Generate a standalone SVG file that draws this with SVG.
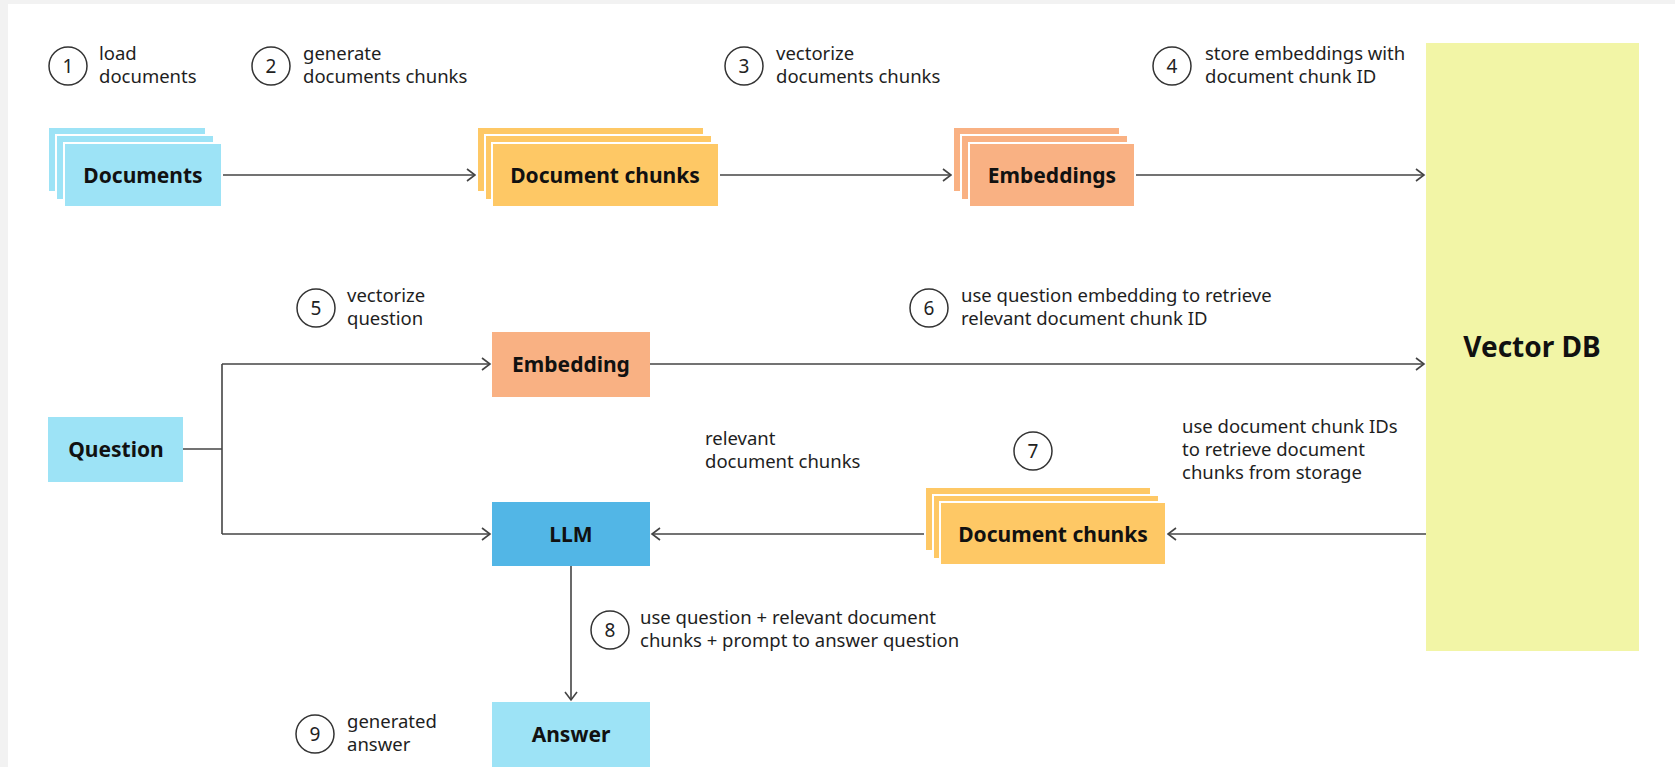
<svg xmlns="http://www.w3.org/2000/svg" width="1675" height="767" viewBox="0 0 1675 767">
  <defs>
    <marker id="arrow" markerUnits="userSpaceOnUse" markerWidth="12" markerHeight="16" refX="9" refY="7" orient="auto">
      <path d="M1,1 L9,7 L1,13" fill="none" stroke="#444" stroke-width="1.6"/>
    </marker>
    <style>
      .lbl { font-family: "Noto Sans", "Open Sans", sans-serif; font-size: 18.5px; fill: #1e1e1e; }
      .num { font-family: "Noto Sans", "Open Sans", sans-serif; font-size: 19px; fill: #222; text-anchor: middle; }
      .ttl { font-family: "Noto Sans", "Open Sans", sans-serif; font-size: 21px; font-weight: bold; fill: #111; text-anchor: middle; }
      .big { font-family: "Noto Sans", "Open Sans", sans-serif; font-size: 28px; font-weight: bold; fill: #111; text-anchor: middle; }
      .ring { fill: none; stroke: #333; stroke-width: 1.5; }
      .edge { fill: none; stroke: #444; stroke-width: 1.6; }
      .sheet { stroke: #fff; stroke-width: 2; }
      .doc { fill: #9de3f6; }
      .chunk { fill: #fec865; }
      .emb { fill: #f9b183; }
      .llm { fill: #52b6e6; }
      .vdb { fill: #f2f5a6; }
    </style>
  </defs>

  <!-- canvas -->
  <rect x="0" y="0" width="1675" height="767" fill="#f2f2f2"/>
  <rect x="8" y="4" width="1667" height="763" fill="#ffffff"/>

  <!-- step markers and captions -->
  <g id="steps">
    <circle class="ring" cx="68" cy="66" r="19"/><text class="num" x="68" y="73">1</text>
    <text class="lbl" x="99" y="60">load</text><text class="lbl" x="99" y="83">documents</text>

    <circle class="ring" cx="271" cy="66" r="19"/><text class="num" x="271" y="73">2</text>
    <text class="lbl" x="303" y="60">generate</text><text class="lbl" x="303" y="83">documents chunks</text>

    <circle class="ring" cx="744" cy="66" r="19"/><text class="num" x="744" y="73">3</text>
    <text class="lbl" x="776" y="60">vectorize</text><text class="lbl" x="776" y="83">documents chunks</text>

    <circle class="ring" cx="1172" cy="66" r="19"/><text class="num" x="1172" y="73">4</text>
    <text class="lbl" x="1205" y="60">store embeddings with</text><text class="lbl" x="1205" y="83">document chunk ID</text>

    <circle class="ring" cx="316" cy="308" r="19"/><text class="num" x="316" y="315">5</text>
    <text class="lbl" x="347" y="302">vectorize</text><text class="lbl" x="347" y="325">question</text>

    <circle class="ring" cx="929" cy="308" r="19"/><text class="num" x="929" y="315">6</text>
    <text class="lbl" x="961" y="302">use question embedding to retrieve</text><text class="lbl" x="961" y="325">relevant document chunk ID</text>

    <text class="lbl" x="705" y="445">relevant</text><text class="lbl" x="705" y="468">document chunks</text>

    <circle class="ring" cx="1033" cy="451" r="19"/><text class="num" x="1033" y="458">7</text>

    <text class="lbl" x="1182" y="433">use document chunk IDs</text>
    <text class="lbl" x="1182" y="456">to retrieve document</text>
    <text class="lbl" x="1182" y="479">chunks from storage</text>

    <circle class="ring" cx="610" cy="630" r="19"/><text class="num" x="610" y="637">8</text>
    <text class="lbl" x="640" y="624">use question + relevant document</text><text class="lbl" x="640" y="647">chunks + prompt to answer question</text>

    <circle class="ring" cx="315" cy="734" r="19"/><text class="num" x="315" y="741">9</text>
    <text class="lbl" x="347" y="728">generated</text><text class="lbl" x="347" y="751">answer</text>
  </g>

  <!-- connectors -->
  <g id="connectors">
    <line class="edge" x1="222" y1="175" x2="475" y2="175" marker-end="url(#arrow)"/>
    <line class="edge" x1="719" y1="175" x2="951" y2="175" marker-end="url(#arrow)"/>
    <line class="edge" x1="1135" y1="175" x2="1424" y2="175" marker-end="url(#arrow)"/>
    <polyline class="edge" points="183,449 222,449"/>
    <polyline class="edge" points="222,364 222,534"/>
    <line class="edge" x1="222" y1="364" x2="490" y2="364" marker-end="url(#arrow)"/>
    <line class="edge" x1="222" y1="534" x2="490" y2="534" marker-end="url(#arrow)"/>
    <line class="edge" x1="650" y1="364" x2="1424" y2="364" marker-end="url(#arrow)"/>
    <line class="edge" x1="1426" y1="534" x2="1168" y2="534" marker-end="url(#arrow)"/>
    <line class="edge" x1="925" y1="534" x2="652" y2="534" marker-end="url(#arrow)"/>
    <line class="edge" x1="571" y1="566" x2="571" y2="700" marker-end="url(#arrow)"/>
  </g>

  <!-- nodes -->
  <g id="documents">
    <rect class="doc sheet" x="48" y="127" width="158" height="65"/>
    <rect class="doc sheet" x="56" y="135" width="158" height="65"/>
    <rect class="doc sheet" x="64" y="143" width="158" height="64"/>
    <text class="ttl" x="143" y="183">Documents</text>
  </g>

  <g id="document-chunks">
    <rect class="chunk sheet" x="477" y="127" width="227" height="65"/>
    <rect class="chunk sheet" x="485" y="135" width="227" height="65"/>
    <rect class="chunk sheet" x="492" y="143" width="227" height="64"/>
    <text class="ttl" x="605" y="183">Document chunks</text>
  </g>

  <g id="embeddings">
    <rect class="emb sheet" x="953" y="127" width="167" height="65"/>
    <rect class="emb sheet" x="961" y="135" width="167" height="65"/>
    <rect class="emb sheet" x="969" y="143" width="166" height="64"/>
    <text class="ttl" x="1052" y="183">Embeddings</text>
  </g>

  <g id="vector-db">
    <rect class="vdb" x="1426" y="43" width="213" height="608"/>
    <text class="big" x="1532" y="357">Vector DB</text>
  </g>

  <g id="question">
    <rect class="doc" x="48" y="417" width="135" height="65"/>
    <text class="ttl" x="116" y="457">Question</text>
  </g>

  <g id="embedding">
    <rect class="emb" x="492" y="332" width="158" height="65"/>
    <text class="ttl" x="571" y="372">Embedding</text>
  </g>

  <g id="retrieved-chunks">
    <rect class="chunk sheet" x="925" y="487" width="226" height="64"/>
    <rect class="chunk sheet" x="933" y="495" width="226" height="64"/>
    <rect class="chunk sheet" x="940" y="502" width="226" height="63"/>
    <text class="ttl" x="1053" y="542">Document chunks</text>
  </g>

  <g id="llm">
    <rect class="llm" x="492" y="502" width="158" height="64"/>
    <text class="ttl" x="571" y="542">LLM</text>
  </g>

  <g id="answer">
    <rect class="doc" x="492" y="702" width="158" height="65"/>
    <text class="ttl" x="571" y="742">Answer</text>
  </g>
</svg>
